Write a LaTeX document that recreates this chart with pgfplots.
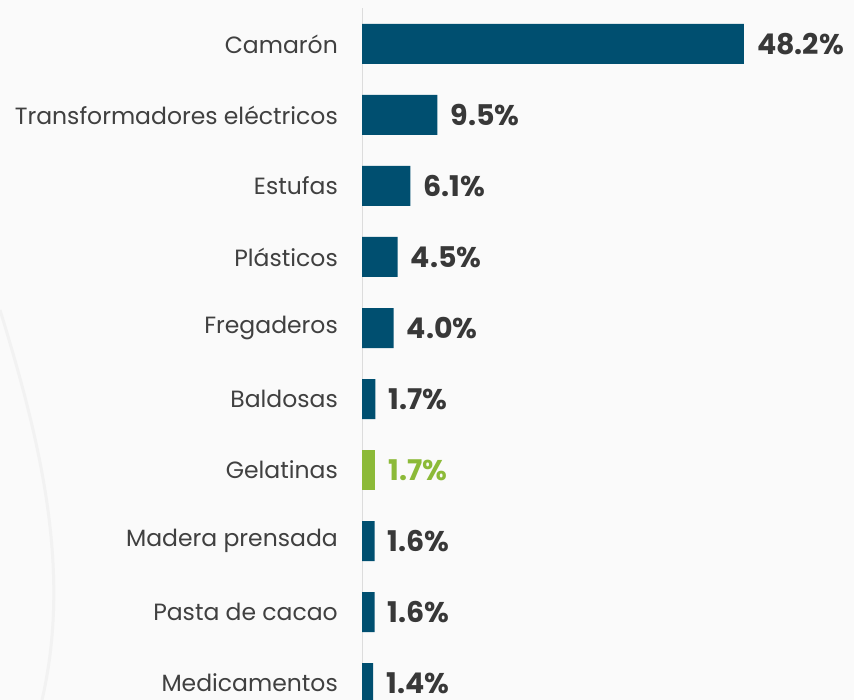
\documentclass[border=0pt]{standalone}
\usepackage{pgfplots}
\pgfplotsset{compat=1.18}
\usepackage{fontspec}
\setmainfont{Poppins}
\definecolor{bg}{HTML}{FAFAFA}
\definecolor{barblue}{HTML}{004F70}
\definecolor{bargreen}{HTML}{8CBA38}
\definecolor{txt}{HTML}{404040}
\definecolor{valtxt}{HTML}{383838}
\definecolor{axisgray}{HTML}{DCDCDC}
\begin{document}
\begin{tikzpicture}
\useasboundingbox (0pt,0pt) rectangle (854pt,700pt);
\fill[bg] (0pt,0pt) rectangle (854pt,700pt);
\draw[line width=3pt, color=black!5] (0pt,390pt) .. controls (40pt,260pt) and (72pt,130pt) .. (42pt,0pt);
\begin{axis}[
  at={(362pt,0pt)}, anchor=south west,
  scale only axis, width=475.5pt, height=692pt,
  xmin=0, xmax=60, ymin=-0.239, ymax=9.507,
  xbar, bar width=40pt, bar shift=0pt,
  axis x line=none, axis y line*=left,
  axis line style={axisgray, line width=1pt},
  ytick={0,...,9},
  yticklabels={Medicamentos,Pasta de cacao,Madera prensada,Gelatinas,Baldosas,Fregaderos,Plásticos,Estufas,Transformadores eléctricos,Camarón},
  major tick length=0pt,
  yticklabel style={font=\fontsize{23.5}{28}\selectfont, color=txt, inner sep=0pt, xshift=-24pt},
  /pgf/number format/assume math mode=true,
  nodes near coords={\pgfmathprintnumber[fixed,fixed zerofill,precision=1,assume math mode=true]{\pgfplotspointmeta}\%},
  every node near coord/.append style={anchor=west, inner sep=0pt, xshift=13pt, font=\bfseries\fontsize{28.5}{32}\selectfont},
  clip=true,
]
\addplot[fill=barblue, draw=none, every node near coord/.append style={color=valtxt}] coordinates {
  (1.4,0) (1.6,1) (1.6,2) (1.7,4) (4.0,5) (4.5,6) (6.1,7) (9.5,8) (48.2,9)
};
\addplot[fill=bargreen, draw=none, every node near coord/.append style={color=bargreen}] coordinates {
  (1.7,3)
};
\end{axis}
\end{tikzpicture}
\end{document}
